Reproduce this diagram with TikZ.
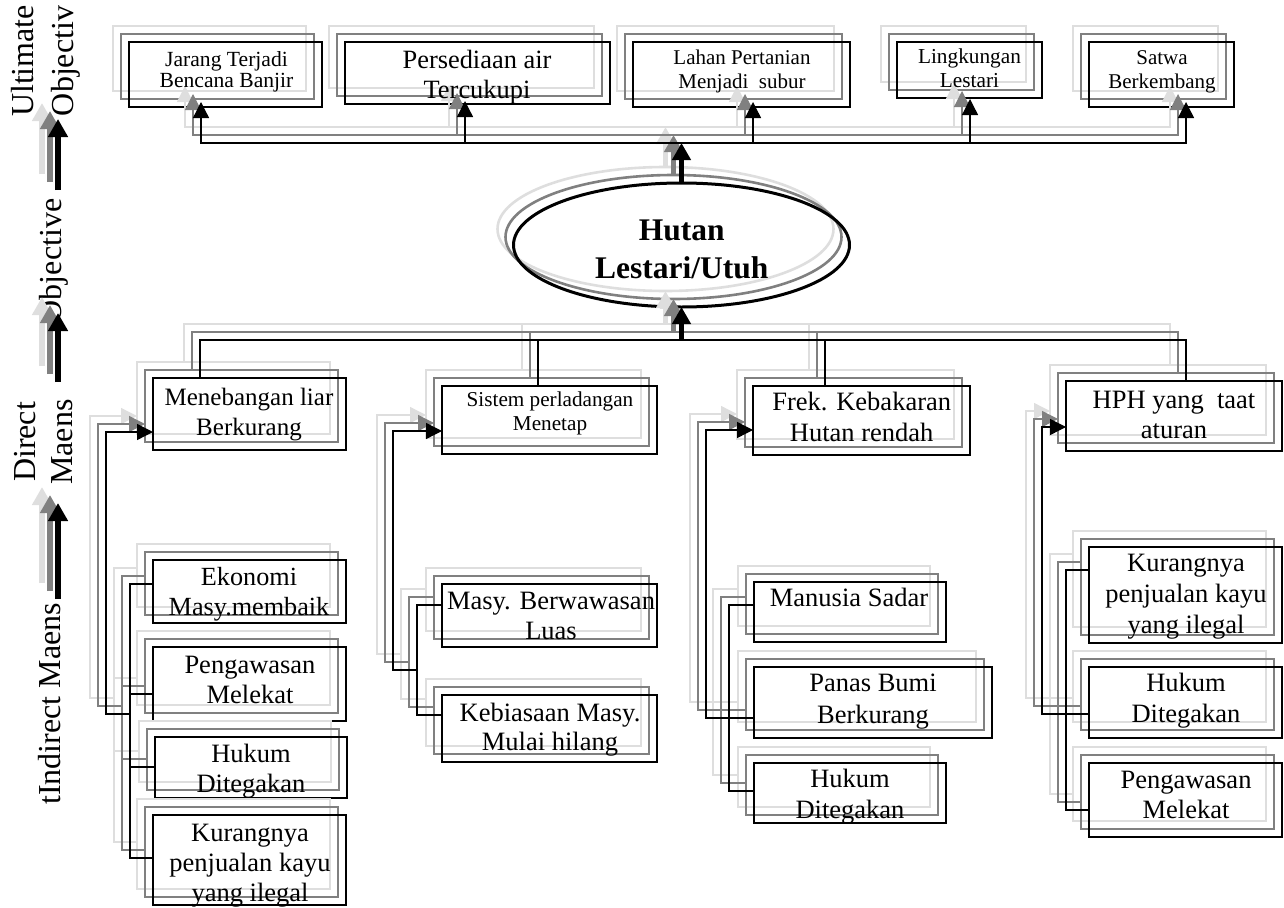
\documentclass[tikz,border=0pt]{standalone}
\usepackage{fontspec}
\setmainfont{Liberation Serif}
\usetikzlibrary{arrows.meta,shapes.geometric}
\definecolor{lgray}{gray}{0.87}
\definecolor{mgray}{gray}{0.5}
\newcommand\fs[2]{\fontsize{#1}{#2}\selectfont}
\tikzset{
  every node/.style={inner sep=0pt, outer sep=0pt},
  sz/.style 2 args={minimum width=#1, minimum height=#2},
  boxL/.style={rectangle, anchor=north west, draw=lgray, fill=white, line width=1.3pt},
  boxG/.style={rectangle, anchor=north west, draw=mgray, line width=1.3pt},
  boxK/.style={rectangle, anchor=north west, draw=black, line width=1.3pt},
  ellL/.style={ellipse, draw=lgray, fill=white, line width=2.6pt},
  ellG/.style={ellipse, draw=mgray, line width=2.6pt},
  ellK/.style={ellipse, draw=black, line width=3pt},
  wire/.style={line width=1.3pt},
  tip/.style={-{Triangle[length=16pt,width=16pt]}},
  tips/.style={{Triangle[length=16pt,width=16pt]}-{Triangle[length=16pt,width=16pt]}},
  fat/.style={line width=4.5pt, -{Triangle[length=17pt,width=18pt]}},
  big/.style={line width=6pt, -{Triangle[length=18pt,width=19pt]}},
  txt/.style={align=center, anchor=north},
  lbl/.style={rotate=90, align=center}
}
% box with two shadow copies: name, x1, y1, x2, y2 (pixel coordinates)
\newcommand\tribox[5]{%
  \node[boxL, sz={(#4-#2)*1pt}{(#5-#3)*1pt}] (#1-L) at ({#2-16},{#3-16}) {};
  \node[boxG, sz={(#4-#2)*1pt}{(#5-#3)*1pt}] (#1-G) at ({#2-8},{#3-8}) {};
  \node[boxK, sz={(#4-#2)*1pt}{(#5-#3)*1pt}] (#1) at (#2,#3) {};
}
% connectors of one layer: suffix, shift, colour
\newcommand\wires[3]{%
\begin{scope}[shift={(#2,#2)}, color=#3]
  % left axis arrows
  \coordinate (v1a#1) at (58,190); \coordinate (v1b#1) at (58,119);
  \coordinate (v2a#1) at (58,382); \coordinate (v2b#1) at (58,313);
  \coordinate (v3a#1) at (58,599); \coordinate (v3b#1) at (58,503);
  \draw[big] (v1a#1) -- (v1b#1);
  \draw[big] (v2a#1) -- (v2b#1);
  \draw[big] (v3a#1) -- (v3b#1);
  % top bus
  \coordinate (t1#1) at (201,143); \coordinate (t2#1) at (465,143);
  \coordinate (t3#1) at (753,143); \coordinate (t4#1) at (970,143);
  \coordinate (t5#1) at (1186,143);
  \draw[wire,tips,shorten <=-5pt,shorten >=-5pt] (t1#1 |- b1#1.south) -- (t1#1) -- (t5#1) -- (t5#1 |- b5#1.south);
  \draw[wire,tip,shorten >=-3pt] (t2#1) -- (t2#1 |- b2#1.south);
  \draw[wire,tip,shorten >=-5pt] (t3#1) -- (t3#1 |- b3#1.south);
  \draw[wire,tip,shorten >=1pt] (t4#1) -- (t4#1 |- b4#1.south);
  \draw[fat] (ell#1.north) -- (ell#1.north |- t1#1);
  % middle bus
  \coordinate (m1#1) at (200,340); \coordinate (m2#1) at (538,340);
  \coordinate (m3#1) at (825,340); \coordinate (m4#1) at (1186,340);
  \draw[wire] (m1#1 |- dA#1.north) -- (m1#1) -- (m4#1) -- (m4#1 |- dD#1.north);
  \draw[wire] (m2#1) -- (m2#1 |- dB#1.north);
  \draw[wire] (m3#1) -- (m3#1 |- dC#1.north);
  \draw[fat] (ell#1.south |- m1#1) -- (ell#1.south);
  % column A
  \coordinate (pA#1) at (106,432); \coordinate (qA#1) at (106,714); \coordinate (rA#1) at (130,714);
  \coordinate (sA1#1) at (130,584); \coordinate (sA2#1) at (130,694);
  \coordinate (sA3#1) at (130,767); \coordinate (sA4#1) at (130,858);
  \draw[wire,tip] (rA#1) -- (qA#1) -- (pA#1) -- (pA#1 -| dA#1.west);
  \draw[wire] (sA1#1 -| a1#1.west) -- (sA1#1) -- (sA4#1) -- (sA4#1 -| a4#1.west);
  \draw[wire] (sA2#1) -- (sA2#1 -| a2#1.west);
  \draw[wire] (sA3#1) -- (sA3#1 -| a3#1.west);
  % column B
  \coordinate (pB#1) at (393,431); \coordinate (qB#1) at (393,670); \coordinate (rB#1) at (417,670);
  \coordinate (sB1#1) at (417,605); \coordinate (sB2#1) at (417,715);
  \draw[wire,tip] (rB#1) -- (qB#1) -- (pB#1) -- (pB#1 -| dB#1.west);
  \draw[wire] (sB1#1 -| e1#1.west) -- (sB1#1) -- (sB2#1) -- (sB2#1 -| e2#1.west);
  % column C
  \coordinate (pC#1) at (706,430); \coordinate (qC#1) at (706,718);
  \coordinate (sC1#1) at (729,605); \coordinate (sC2#1) at (729,718); \coordinate (sC3#1) at (729,791);
  \draw[wire,tip] (sC2#1 -| c2#1.west) -- (qC#1) -- (pC#1) -- (pC#1 -| dC#1.west);
  \draw[wire] (sC1#1 -| c1#1.west) -- (sC1#1) -- (sC3#1) -- (sC3#1 -| c3#1.west);
  % column D
  \coordinate (pD#1) at (1042,427); \coordinate (qD#1) at (1042,714);
  \coordinate (sD1#1) at (1066,570); \coordinate (sD2#1) at (1066,714); \coordinate (sD3#1) at (1066,810);
  \draw[wire,tip] (sD2#1 -| f2#1.west) -- (qD#1) -- (pD#1) -- (pD#1 -| dD#1.west);
  \draw[wire] (sD1#1 -| f1#1.west) -- (sD1#1) -- (sD3#1) -- (sD3#1 -| f3#1.west);
\end{scope}}

\begin{document}
\begin{tikzpicture}[x=1pt, y=-1pt]
\useasboundingbox (0,0) rectangle (1284,907);

% axis labels
\node[lbl, font=\fs{32}{40}] (labU) at (45,61) {\strut Ultimate\\\strut Objectiv};
\node[lbl, font=\fs{32}{40}] (labO) at (53,261) {\strut Objective};
\node[lbl, font=\fs{32}{37}] (labD) at (46.1,442) {\strut Direct\\\strut Maens};
\node[lbl, font=\fs{32}{40}] (labI) at (52,704) {\strut tIndirect Maens};

% ultimate objectives
\tribox{b1}{129}{42}{322}{107}
\tribox{b2}{345}{42}{610}{104}
\tribox{b3}{633}{42}{850}{107}
\tribox{b4}{897}{42}{1042}{98}
\tribox{b5}{1089}{42}{1234}{107}

% objective
\node[ellL, sz={336pt}{124pt}] (ell-L) at (665.5,229) {};
\node[ellG, sz={336pt}{124pt}] (ell-G) at (673.5,237) {};
\node[ellK, sz={336pt}{124pt}] (ell) at (681.5,245) {};

% direct means
\tribox{dA}{153}{378}{346}{450}
\tribox{dB}{442}{386}{657}{454}
\tribox{dC}{753}{386}{970}{455}
\tribox{dD}{1066}{381}{1282}{451}

% indirect means
\tribox{a1}{153}{560}{346}{623}
\tribox{a2}{153}{647}{346}{721}
\tribox{a3}{155}{737}{347}{798}
\tribox{a4}{153}{815}{346}{905}
\tribox{e1}{442}{584}{657}{647}
\tribox{e2}{442}{695}{657}{762}
\tribox{c1}{754}{582}{946}{642}
\tribox{c2}{754}{667}{992}{738}
\tribox{c3}{754}{763}{946}{823}
\tribox{f1}{1089}{547}{1282}{643}
\tribox{f2}{1089}{667}{1282}{738}
\tribox{f3}{1089}{763}{1282}{837}

% connectors, three layers
\wires{-L}{-16}{lgray}
\wires{-G}{-8}{mgray}
\wires{}{0}{black}

% texts
\node[txt, font=\fs{21.6}{21.5}] (b1-t) at (226.5,51.2) {\strut Jarang Terjadi\\\strut Bencana Banjir};
\node[txt, font=\fs{26.4}{30.7}] (b2-t) at (477,46.8) {\strut Persediaan air\\\strut Tercukupi};
\node[txt, font=\fs{21}{24.3}] (b3-t) at (742,47) {\strut Lahan Pertanian\\\strut Menjadi\ \ subur};
\node[txt, font=\fs{21.3}{24}] (b4-t) at (969.5,46.5) {\strut Lingkungan\\\strut Lestari};
\node[txt, font=\fs{21}{24.3}] (b5-t) at (1162,47) {\strut Satwa\\\strut Berkembang};
\node[txt, font=\fs{31.5}{37.6}\bfseries] (ell-t) at (681.7,214.4) {\strut Hutan\\\strut Lestari/Utuh};
\node[txt, font=\fs{25}{30}] (dA-t) at (249,384) {\strut Menebangan liar\\\strut Berkurang};
\node[txt, font=\fs{21.2}{24}] (dB-t) at (550,389.9) {\strut Sistem perladangan\\\strut Menetap};
\node[txt, font=\fs{26.5}{30.7}] (dC-t) at (861.7,389.5) {\strut Frek. Kebakaran\\\strut Hutan rendah};
\node[txt, font=\fs{26.5}{30}] (dD-t) at (1174,387.3) {\strut HPH yang\ \ taat\\\strut aturan};
\node[txt, font=\fs{26.2}{29.5}] (a1-t) at (249,565) {\strut Ekonomi\\\strut Masy.membaik};
\node[txt, font=\fs{26.5}{30}] (a2-t) at (250,652.3) {\strut Pengawasan\\\strut Melekat};
\node[txt, font=\fs{26.5}{30}] (a3-t) at (251,741.7) {\strut Hukum\\\strut Ditegakan};
\node[txt, font=\fs{26.5}{30}] (a4-t) at (250,820.7) {\strut Kurangnya\\\strut penjualan kayu\\\strut yang ilegal};
\node[txt, font=\fs{26.5}{30}] (e1-t) at (551,588) {\strut Masy. Berwawasan\\\strut Luas};
\node[txt, font=\fs{26.5}{29}] (e2-t) at (550,700.7) {\strut Kebiasaan Masy.\\\strut Mulai hilang};
\node[txt, font=\fs{26.5}{30}] (c1-t) at (849,585.7) {\strut Manusia Sadar};
\node[txt, font=\fs{26.5}{32}] (c2-t) at (873,668.6) {\strut Panas Bumi\\\strut Berkurang};
\node[txt, font=\fs{26.5}{31}] (c3-t) at (850,765.6) {\strut Hukum\\\strut Ditegakan};
\node[txt, font=\fs{26.5}{30.8}] (f1-t) at (1186,550.1) {\strut Kurangnya\\\strut penjualan kayu\\\strut yang ilegal};
\node[txt, font=\fs{26.5}{31}] (f2-t) at (1186,670) {\strut Hukum\\\strut Ditegakan};
\node[txt, font=\fs{26.5}{30}] (f3-t) at (1186,767.3) {\strut Pengawasan\\\strut Melekat};
\end{tikzpicture}
\end{document}
